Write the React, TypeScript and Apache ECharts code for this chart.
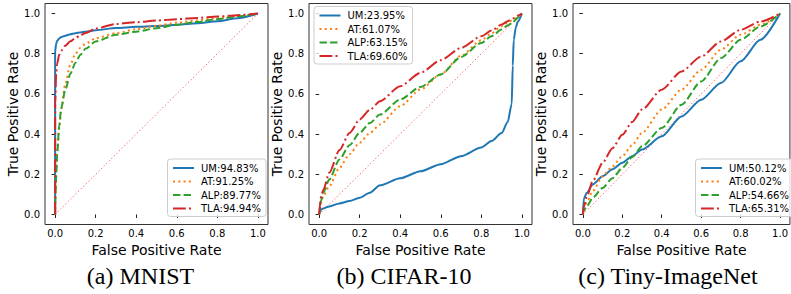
import React, { useEffect, useRef } from "react";
import * as echarts from "echarts";

// ---------- data ----------
const tickValues = [0, 0.2, 0.4, 0.6, 0.8, 1.0];
const diagonal = [0, 1];

// (a) MNIST
const mnistFpr = [0, 0, 0.005, 0.01, 0.02, 0.03, 0.05, 0.075, 0.1, 0.125, 0.15, 0.2, 0.3, 0.4, 0.5, 0.6, 0.7, 0.8, 0.9, 1.0];
const mnistUM = [0, 0.81, 0.85, 0.865, 0.876, 0.883, 0.89, 0.897, 0.902, 0.906, 0.91, 0.917, 0.928, 0.934, 0.938, 0.944, 0.952, 0.962, 0.977, 1.0];
const mnistAT = [0, 0.1, 0.22, 0.32, 0.43, 0.52, 0.65, 0.745, 0.8, 0.83, 0.85, 0.877, 0.902, 0.922, 0.939, 0.955, 0.966, 0.977, 0.989, 1.0];
const mnistALP = [0, 0.05, 0.18, 0.3, 0.44, 0.53, 0.62, 0.7, 0.755, 0.795, 0.825, 0.861, 0.894, 0.91, 0.927, 0.944, 0.958, 0.972, 0.986, 1.0];
const mnistTLA = [0, 0.55, 0.7, 0.75, 0.795, 0.815, 0.84, 0.862, 0.878, 0.892, 0.903, 0.925, 0.948, 0.957, 0.965, 0.972, 0.978, 0.985, 0.992, 1.0];
const mnistNames = ["UM:94.83%", "AT:91.25%", "ALP:89.77%", "TLA:94.94%"];

// (b) CIFAR-10
const cifarFpr = [0, 0.01, 0.02, 0.05, 0.1, 0.15, 0.2, 0.25, 0.3, 0.4, 0.5, 0.6, 0.7, 0.8, 0.85, 0.9, 0.93, 0.95, 0.955, 0.96, 0.97, 0.98, 1.0];
const cifarUM = [0, 0.025, 0.03, 0.04, 0.055, 0.067, 0.083, 0.108, 0.145, 0.18, 0.215, 0.25, 0.29, 0.333, 0.365, 0.405, 0.46, 0.55, 0.74, 0.87, 0.93, 0.96, 1.0];
const cifarAT = [0, 0.06, 0.09, 0.14, 0.232, 0.3, 0.357, 0.405, 0.448, 0.539, 0.622, 0.697, 0.79, 0.867, 0.902, 0.937, 0.955, 0.965, 0.968, 0.971, 0.978, 0.986, 1.0];
const cifarALP = [0, 0.07, 0.108, 0.174, 0.274, 0.345, 0.406, 0.455, 0.497, 0.572, 0.635, 0.697, 0.784, 0.854, 0.887, 0.92, 0.94, 0.953, 0.956, 0.96, 0.97, 0.98, 1.0];
const cifarTLA = [0, 0.09, 0.12, 0.207, 0.32, 0.406, 0.473, 0.52, 0.564, 0.638, 0.705, 0.768, 0.829, 0.887, 0.915, 0.945, 0.962, 0.972, 0.975, 0.977, 0.983, 0.99, 1.0];
const cifarNames = ["UM:23.95%", "AT:61.07%", "ALP:63.15%", "TLA:69.60%"];

// (c) Tiny-ImageNet
const tinyFpr = [0, 0.005, 0.02, 0.05, 0.1, 0.15, 0.2, 0.25, 0.3, 0.4, 0.5, 0.6, 0.7, 0.8, 0.9, 1.0];
const tinyUM = [0, 0.08, 0.108, 0.149, 0.19, 0.225, 0.257, 0.29, 0.323, 0.389, 0.488, 0.571, 0.654, 0.762, 0.869, 1.0];
const tinyAT = [0, 0.03, 0.06, 0.116, 0.19, 0.24, 0.29, 0.345, 0.406, 0.522, 0.621, 0.72, 0.82, 0.894, 0.944, 1.0];
const tinyALP = [0, 0.02, 0.04, 0.083, 0.132, 0.18, 0.232, 0.285, 0.339, 0.43, 0.546, 0.662, 0.778, 0.869, 0.935, 1.0];
const tinyTLA = [0, 0.04, 0.09, 0.166, 0.257, 0.33, 0.397, 0.46, 0.522, 0.621, 0.712, 0.786, 0.861, 0.919, 0.96, 1.0];
const tinyNames = ["UM:50.12%", "AT:60.02%", "ALP:54.66%", "TLA:65.31%"];

const captions = ["(a) MNIST", "(b) CIFAR-10", "(c) Tiny-ImageNet"];

// ---------- styles ----------
const FONT = "DejaVu Sans";
const lineStyles = [
  { color: "#1f77b4", type: "solid" as any },
  { color: "#ff7f0e", type: [2, 3.3] },
  { color: "#2ca02c", type: [7.4, 3.2] },
  { color: "#d62728", type: [12.8, 3.2, 2, 3.2] },
];

const grids = [
  { left: 45, top: 3.5, width: 223, height: 221 },
  { left: 309, top: 3.5, width: 223, height: 221 },
  { left: 573, top: 3.5, width: 224, height: 221 },
];
const legendPos = [
  { left: 167.5, top: 159 },
  { left: 314, top: 6.5 },
  { left: 695.5, top: 159 },
];
const captionPos = [
  { x: 140.5, y: 276 },
  { x: 404, y: 276 },
  { x: 668, y: 276 },
];

const pairs = (xs: number[], ys: number[]) => xs.map((x, i) => [x, ys[i]]);

export default function App() {
  const ref = useRef<HTMLDivElement>(null);
  useEffect(() => {
    if (!ref.current) return;
    const chart = echarts.init(ref.current, undefined, { renderer: "svg" });
    const panels = [
      { fpr: mnistFpr, tprs: [mnistUM, mnistAT, mnistALP, mnistTLA], names: mnistNames },
      { fpr: cifarFpr, tprs: [cifarUM, cifarAT, cifarALP, cifarTLA], names: cifarNames },
      { fpr: tinyFpr, tprs: [tinyUM, tinyAT, tinyALP, tinyTLA], names: tinyNames },
    ];
    const xAxis: any[] = [];
    const yAxis: any[] = [];
    const series: any[] = [];
    const legend: any[] = [];
    const axisCommon = {
      type: "value",
      min: -0.05,
      max: 1.05,
      splitLine: { show: false },
      axisLine: { show: false },
      axisTick: { show: true, customValues: tickValues, length: 3.5, lineStyle: { color: "#222", width: 1 } },
      axisLabel: {
        customValues: tickValues,
        formatter: (v: number) => v.toFixed(1),
        fontFamily: FONT,
        fontSize: 10,
        color: "#000",
      },
      nameLocation: "middle",
      nameTextStyle: { fontFamily: FONT, fontSize: 14, color: "#000" },
    };
    panels.forEach((p, gi) => {
      xAxis.push({
        ...axisCommon,
        gridIndex: gi,
        name: "False Positive Rate",
        nameGap: 12,
        axisLabel: { ...axisCommon.axisLabel, margin: 4 },
      });
      yAxis.push({
        ...axisCommon,
        gridIndex: gi,
        name: "True Positive Rate",
        nameGap: 21,
        axisLabel: { ...axisCommon.axisLabel, margin: 5 },
      });
      series.push({
        type: "line",
        name: "diag" + gi,
        xAxisIndex: gi,
        yAxisIndex: gi,
        data: pairs(diagonal, diagonal),
        symbol: "none",
        silent: true,
        lineStyle: { color: "rgba(255,40,40,0.8)", width: 1, type: [1.2, 2.4] },
      });
      p.tprs.forEach((tpr, si) => {
        series.push({
          type: "line",
          name: p.names[si],
          xAxisIndex: gi,
          yAxisIndex: gi,
          data: pairs(p.fpr, tpr),
          symbol: "none",
          smooth: 0.25,
          smoothMonotone: "x",
          color: lineStyles[si].color,
          lineStyle: { color: lineStyles[si].color, width: 2, type: lineStyles[si].type, cap: "butt" },
        });
      });
      legend.push({
        data: p.names,
        orient: "vertical",
        left: legendPos[gi].left,
        top: legendPos[gi].top,
        itemWidth: 21,
        itemHeight: 10,
        itemGap: 3.5,
        padding: [4, 5, 3, 4.5],
        selectedMode: false,
        itemStyle: { opacity: 0 },
        backgroundColor: "rgba(255,255,255,0.8)",
        borderColor: "#cccccc",
        borderWidth: 1,
        borderRadius: 3,
        textStyle: { fontFamily: FONT, fontSize: 10, color: "#000", padding: [0, 0, 0, 2] },
      });
    });
    chart.setOption({
      animation: false,
      backgroundColor: "#fff",
      grid: grids.map((g) => ({ ...g, show: true, borderColor: "#333", borderWidth: 1, containLabel: false })),
      xAxis,
      yAxis,
      series,
      legend,
      graphic: captions.map((c, i) => ({
        type: "text",
        x: captionPos[i].x,
        y: captionPos[i].y,
        style: {
          text: c,
          fontFamily: "Liberation Serif",
          fontSize: 24,
          fill: "#000",
          align: "center",
          verticalAlign: "middle",
        },
      })),
    });
    return () => chart.dispose();
  }, []);
  return <div ref={ref} style={{ position: "fixed", left: 0, top: 0, width: 791, height: 294 }} />;
}
